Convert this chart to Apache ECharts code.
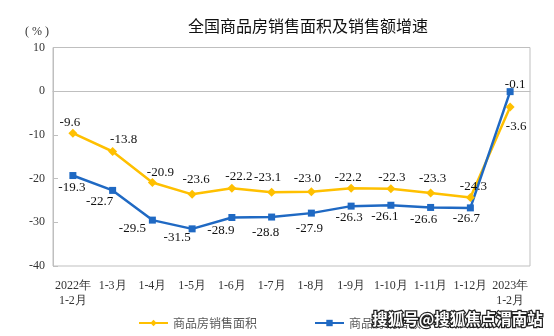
<!DOCTYPE html>
<html><head><meta charset="utf-8">
<script src="https://cdn.jsdelivr.net/npm/echarts@6/dist/echarts.min.js"></script>
<style>html,body{margin:0;padding:0;background:#fff}#c{width:554px;height:336px}</style>
</head><body><div id="c"></div>
<script>
var categories = ['2022年\n1-2月','1-3月','1-4月','1-5月','1-6月','1-7月','1-8月','1-9月','1-10月','1-11月','1-12月','2023年\n1-2月'];
var areaGrowth = [-9.6,-13.8,-20.9,-23.6,-22.2,-23.1,-23.0,-22.2,-22.3,-23.3,-24.3,-3.6];
var salesGrowth = [-19.3,-22.7,-29.5,-31.5,-28.9,-28.8,-27.9,-26.3,-26.1,-26.6,-26.7,-0.1];
var yTicks = [10,0,-10,-20,-30,-40];
var seriesNames = ['商品房销售面积','商品房销售额'];

// label nudges (style only)
var nudgeA = [[-3,0],[11,-1],[8,1],[4,-4],[7,-1],[-4,-4],[-4,-2],[-3,0],[1,0],[2,-3],[3,0],[6,9]];
var nudgeB = [[-1,2],[-13,1],[-20,-2],[-15,-1],[-11,3],[-6,6],[-2,5],[-2,1],[-6,1],[-7,2],[-4,1],[5,3]];
var posA = function(i){return i===11?'bottom':'top';};
var posB = function(i){return i===11?'top':'bottom';};

var serif = '"Liberation Serif","Times New Roman",serif';
var yellow = '#FFC000', blue = '#1F69C3';

function build(vals, nudge, pos){
  return vals.map(function(v,i){
    return {value:v, label:{position:pos(i), offset:nudge[i]}};
  });
}

var chart = echarts.init(document.getElementById('c'));
chart.setOption({
  animation:false,
  backgroundColor:'#fff',
  title:{text:'全国商品房销售面积及销售额增速', left:303, top:13, textAlign:'center',
    textStyle:{fontFamily:'"Noto Sans CJK SC"', fontSize:16, fontWeight:'normal', color:'#111'}},
  graphic:[
    {type:'text', left:25, top:26, style:{text:'( % )', font:'12px '+serif, fill:'#333'}},
    {type:'text', left:371, top:310, z:100, style:{text:'搜狐号@搜狐焦点渭南站', font:'bold 15.5px "Noto Sans CJK SC"', fill:'#fff', stroke:'#222', lineWidth:2.5}}
  ],
  legend:{top:312, left:133, itemGap:57, itemWidth:29, itemHeight:8,
    textStyle:{fontFamily:'"Noto Sans CJK SC"', fontSize:12, color:'#595959'},
    data:seriesNames},
  grid:{left:53, right:24, top:47.5, bottom:70, show:true, borderColor:'#bfbfbf', borderWidth:1},
  xAxis:{type:'category', data:categories, boundaryGap:true,
    axisLine:{lineStyle:{color:'#bfbfbf'}},
    axisTick:{inside:true, length:5, lineStyle:{color:'#bfbfbf'}},
    axisLabel:{fontFamily:serif, fontSize:12, color:'#333', interval:0, margin:12, lineHeight:15}},
  yAxis:{type:'value', min:-40, max:10, interval:10,
    axisLine:{show:true, lineStyle:{color:'#bfbfbf'}},
    axisTick:{show:true, inside:true, length:5, lineStyle:{color:'#bfbfbf'}},
    splitLine:{show:false},
    axisLabel:{fontFamily:serif, fontSize:12, color:'#333', margin:8}},
  series:[
    {name:seriesNames[0], type:'line', data:build(areaGrowth,nudgeA,posA), symbol:'diamond', symbolSize:9,
      lineStyle:{color:yellow, width:2.5}, itemStyle:{color:yellow},
      label:{show:true, distance:0, fontFamily:serif, fontSize:13, color:'#111', formatter:function(p){return p.value.toFixed(1);}}},
    {name:seriesNames[1], type:'line', data:build(salesGrowth,nudgeB,posB), symbol:'rect', symbolSize:7,
      lineStyle:{color:blue, width:2.5}, itemStyle:{color:blue},
      label:{show:true, distance:0, fontFamily:serif, fontSize:13, color:'#111', formatter:function(p){return p.value.toFixed(1);}}}
  ]
});
</script></body></html>
